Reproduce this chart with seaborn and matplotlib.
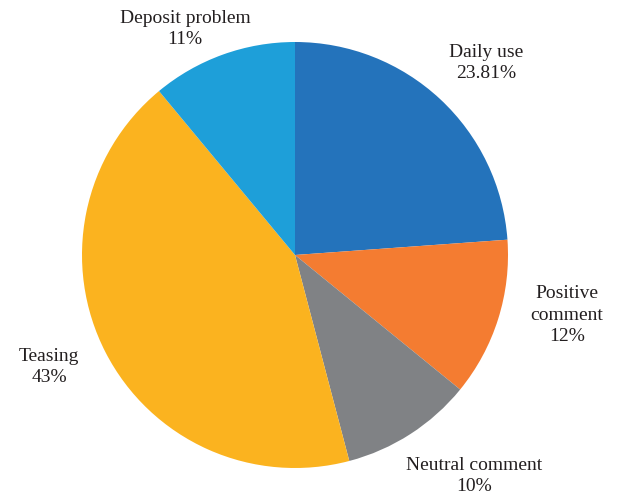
import matplotlib
matplotlib.use("Agg")
import matplotlib.pyplot as plt
import seaborn as sns

# Share of comment categories
categories = ["Daily use", "Positive comment", "Neutral comment", "Teasing", "Deposit problem"]
shares = [23.81, 12, 10, 43, 11]
share_labels = ["23.81%", "12%", "10%", "43%", "11%"]
label_texts = ["Daily use", "Positive\ncomment", "Neutral comment", "Teasing", "Deposit problem"]
colors = ["#2473BB", "#F47C31", "#808285", "#FBB31F", "#1E9FD9"]

sns.set_theme(style="white")
plt.rcParams["font.family"] = ["Liberation Serif", "DejaVu Serif"]

W, H = 617, 500
fig = plt.figure(figsize=(W / 100, H / 100), dpi=100)
cx, cy, r = 295, 255, 213
ax = fig.add_axes([(cx - r) / W, (H - cy - r) / H, 2 * r / W, 2 * r / H])

ax.pie(shares, colors=colors, startangle=90, counterclock=False,
       radius=1.0, wedgeprops=dict(linewidth=0))
ax.set_xlim(-1, 1)
ax.set_ylim(-1, 1)
ax.set_aspect("equal")
ax.axis("off")

# label centres in pixel space, converted to data units
label_px = [(486, 63), (567, 315), (474, 476), (49, 367), (185, 29)]
for txt, pct, (px, py) in zip(label_texts, share_labels, label_px):
    ax.text((px - cx) / r, (cy - py) / r, f"{txt}\n{pct}",
            ha="center", va="center", fontsize=14, color="#231F20",
            linespacing=1.33, clip_on=False)

fig.savefig("out.png", dpi=100, facecolor="white")
